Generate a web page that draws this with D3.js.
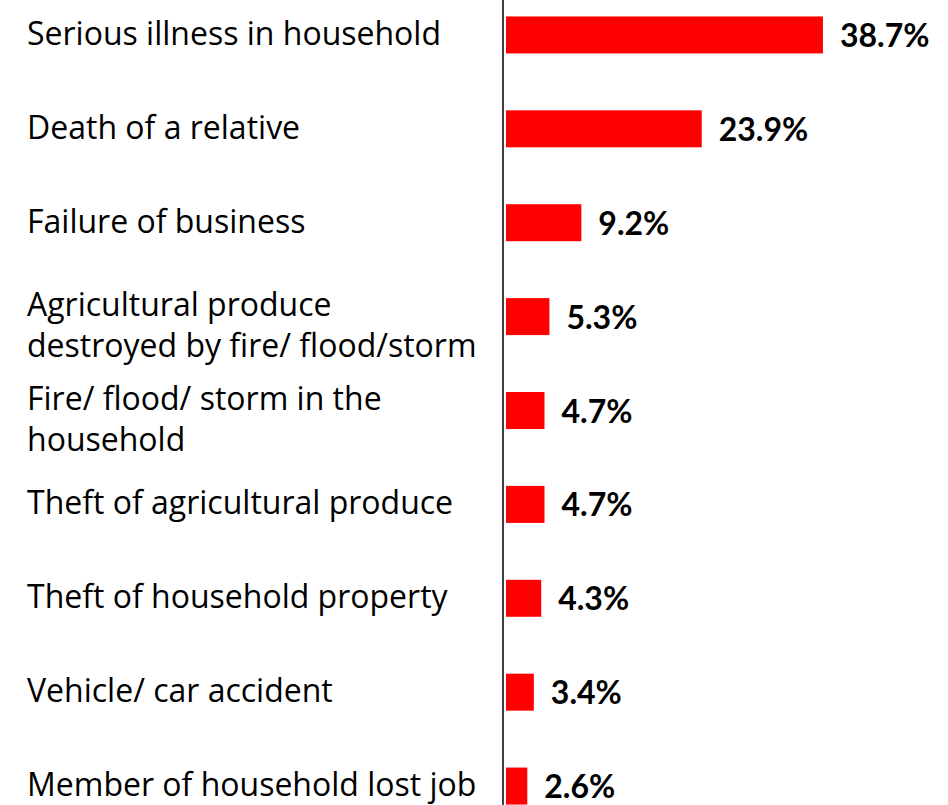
<!DOCTYPE html>
<html>
<head>
<meta charset="utf-8">
<script src="https://cdn.jsdelivr.net/npm/d3@7"></script>
<style>
  html, body { margin: 0; padding: 0; background: #fff; }
  svg { display: block; }
</style>
</head>
<body>
<div id="chart"></div>
<script>
// Shocks experienced by households (share of households, %)
const categories = [
  "Serious illness in household",
  "Death of a relative",
  "Failure of business",
  "Agricultural produce destroyed by fire/ flood/storm",
  "Fire/ flood/ storm in the household",
  "Theft of agricultural produce",
  "Theft of household property",
  "Vehicle/ car accident",
  "Member of household lost job"
];
const values = [38.7, 23.9, 9.2, 5.3, 4.7, 4.7, 4.3, 3.4, 2.6];
// how each category label breaks into lines
const labelLines = [
  ["Serious illness in household"],
  ["Death of a relative"],
  ["Failure of business"],
  ["Agricultural produce", "destroyed by fire/ flood/storm"],
  ["Fire/ flood/ storm in the", "household"],
  ["Theft of agricultural produce"],
  ["Theft of household property"],
  ["Vehicle/ car accident"],
  ["Member of household lost job"]
];

const W = 948, H = 805;
const axisX = 503;
const labelX = 27;

const svg = d3.select("#chart").append("svg")
  .attr("width", W).attr("height", H);

const x = d3.scaleLinear().domain([0, 40]).range([506, 506 + 40 * 8.19]);
const y = d3.scaleBand().domain(categories)
  .range([-12, 833]).paddingInner(0.606).paddingOuter(0.303);

const rows = categories.map((c, i) => ({ cat: c, value: values[i], lines: labelLines[i] }));

// bars
svg.append("g").selectAll("rect").data(rows).join("rect")
  .attr("x", x(0))
  .attr("y", d => y(d.cat))
  .attr("width", d => x(d.value) - x(0))
  .attr("height", y.bandwidth())
  .attr("fill", "#ff0000");

// vertical category axis line
svg.append("line")
  .attr("x1", axisX).attr("x2", axisX)
  .attr("y1", 0).attr("y2", H)
  .attr("stroke", "#111").attr("stroke-width", 1.6);

// category labels
const lab = svg.append("g")
  .attr("font-family", "'Open Sans', 'Noto Sans', sans-serif")
  .attr("font-size", 32)
  .attr("fill", "#000");

rows.forEach(d => {
  const cy = y(d.cat) + y.bandwidth() / 2;
  const t = lab.append("text").attr("x", labelX);
  if (d.lines.length === 1) {
    t.attr("y", cy + 10).text(d.lines[0]);
  } else {
    d.lines.forEach((ln, k) => {
      t.append("tspan").attr("x", labelX).attr("y", cy - 1 + k * 41).text(ln);
    });
  }
});

// value labels
svg.append("g")
  .attr("font-family", "Lato, 'Open Sans', sans-serif")
  .attr("font-size", 32)
  .attr("font-weight", "bold")
  .attr("fill", "#000")
  .selectAll("text").data(rows).join("text")
  .attr("x", d => x(d.value) + 17)
  .attr("y", d => y(d.cat) + y.bandwidth() / 2 + 12)
  .text(d => d.value.toFixed(1) + "%");
</script>
</body>
</html>
